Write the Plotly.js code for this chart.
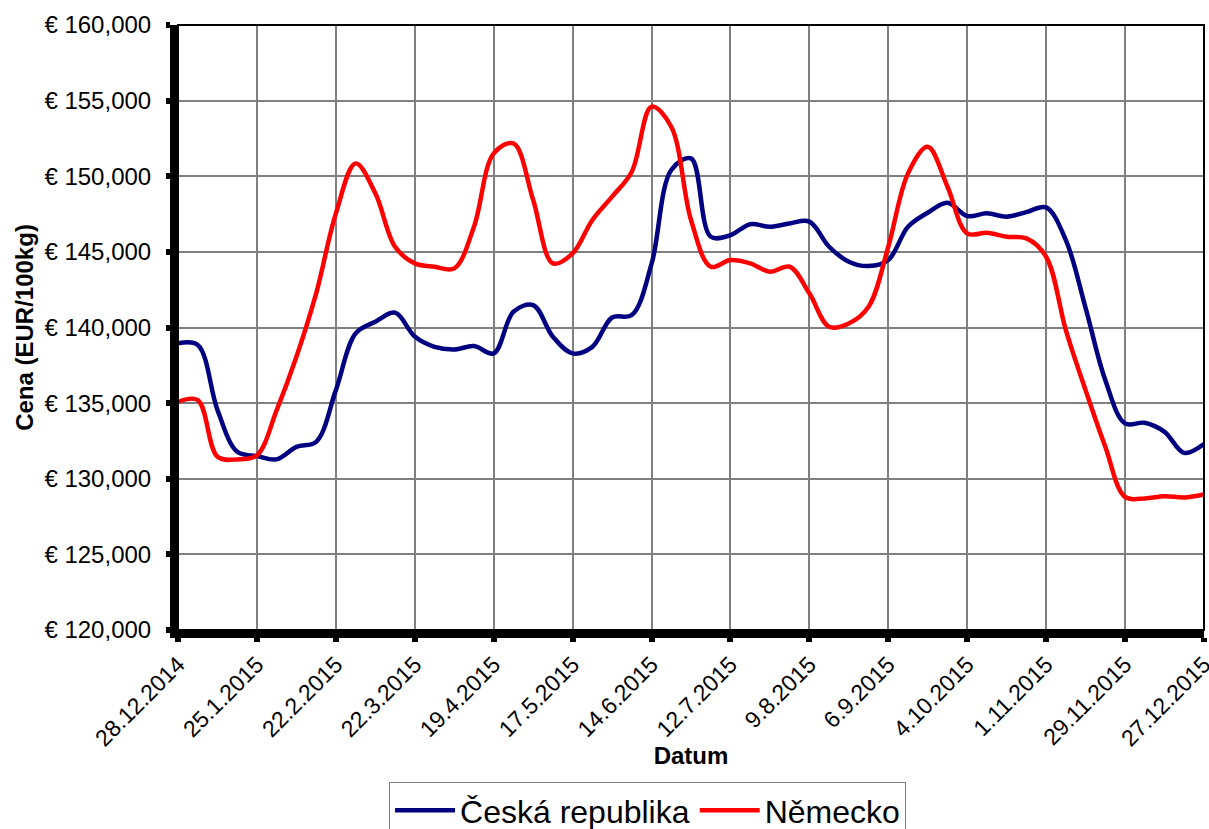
<!DOCTYPE html>
<html>
<head>
<meta charset="utf-8">
<script src="https://cdn.plot.ly/plotly-3.0.1.min.js"></script>
<style>html,body{margin:0;padding:0;background:#fff;}#chart{width:1209px;height:829px;}</style>
</head>
<body>
<div id="chart"></div>
<script>
const dates = [
  "2014-12-28","2015-01-04","2015-01-11","2015-01-18","2015-01-25","2015-02-01","2015-02-08","2015-02-15",
  "2015-02-22","2015-03-01","2015-03-08","2015-03-15","2015-03-22","2015-03-29","2015-04-05","2015-04-12",
  "2015-04-19","2015-04-26","2015-05-03","2015-05-10","2015-05-17","2015-05-24","2015-05-31","2015-06-07",
  "2015-06-14","2015-06-21","2015-06-28","2015-07-05","2015-07-12","2015-07-19","2015-07-26","2015-08-02",
  "2015-08-09","2015-08-16","2015-08-23","2015-08-30","2015-09-06","2015-09-13","2015-09-20","2015-09-27",
  "2015-10-04","2015-10-11","2015-10-18","2015-10-25","2015-11-01","2015-11-08","2015-11-15","2015-11-22",
  "2015-11-29","2015-12-06","2015-12-13","2015-12-20","2015-12-27"
];

const ceskaRepublika = [
  138950, 138840, 134540, 131780, 131500, 131280, 132110, 132440,
  135860, 139610, 140380, 140980, 139400, 138720, 138550, 138770,
  138290, 141040, 141480, 139390, 138290, 138720, 140660, 140820,
  144200, 150410, 151180, 146000, 146110, 146830, 146660, 146880,
  147000, 145340, 144350, 144060, 144460, 146660, 147590, 148250,
  147370, 147550, 147330, 147630, 147940, 145780, 141300, 136520,
  133660, 133700, 133100, 131710, 132290
];

const nemecko = [
  135090, 135200, 131450, 131280, 131560, 134540, 138060, 142250,
  147550, 150850, 148870, 145340, 144240, 144020, 143910, 146660,
  151510, 152170, 148430, 144240, 144900, 147110, 148650, 150300,
  154600, 153270, 147110, 144020, 144460, 144240, 143690, 144020,
  142260, 140050, 140270, 141370, 145340, 150190, 151950, 149310,
  146220, 146260, 146000, 145890, 144680, 139830, 135860, 132110,
  128800, 128700, 128850, 128760, 128960
];

const xTickVals = ["2014-12-28","2015-01-25","2015-02-22","2015-03-22","2015-04-19","2015-05-17","2015-06-14",
                   "2015-07-12","2015-08-09","2015-09-06","2015-10-04","2015-11-01","2015-11-29","2015-12-27"];
const xTickText = ["28.12.2014","25.1.2015","22.2.2015","22.3.2015","19.4.2015","17.5.2015","14.6.2015",
                   "12.7.2015","9.8.2015","6.9.2015","4.10.2015","1.11.2015","29.11.2015","27.12.2015"];

const seriesNames = ["Česká republika", "Německo"];
const FONT = "Liberation Sans, Arial, sans-serif";

const traces = [
  {x: dates, y: ceskaRepublika, name: seriesNames[0], type: "scatter", mode: "lines",
   line: {color: "#000080", width: 4.5, shape: "spline", smoothing: 1}},
  {x: dates, y: nemecko, name: seriesNames[1], type: "scatter", mode: "lines",
   line: {color: "#FF0000", width: 4.5, shape: "spline", smoothing: 1}}
];

const layout = {
  width: 1209, height: 829,
  margin: {l: 178, r: 5, t: 25, b: 199},
  paper_bgcolor: "#fff", plot_bgcolor: "#fff",
  font: {family: FONT, color: "#000"},
  showlegend: true,
  legend: {
    orientation: "h", xref: "paper", x: 0.2057, xanchor: "left",
    yref: "container", y: 0.0567, yanchor: "top",
    bordercolor: "#808080", borderwidth: 1, bgcolor: "#fff",
    font: {family: FONT, size: 32, color: "#000"}, itemwidth: 60, tracegroupgap: 0
  },
  xaxis: {
    type: "date",
    range: ["2014-12-27 23:30", "2015-12-27 00:30"],
    automargin: false,
    tickmode: "array", tickvals: xTickVals, ticktext: xTickText,
    tickangle: -45, ticklabeloverflow: "allow",
    tickfont: {family: FONT, size: 23, color: "#000"},
    showgrid: true, gridcolor: "#808080", gridwidth: 2,
    showline: true, linecolor: "#000", linewidth: 8,
    ticks: "outside", ticklen: 4, tickwidth: 6, tickcolor: "#000",
    zeroline: false,
    title: {text: "<b>Datum</b>", font: {family: FONT, size: 24, color: "#000"}, standoff: 0}
  },
  yaxis: {
    range: [120000, 160000], dtick: 5000, tick0: 120000,
    automargin: false,
    tickprefix: "€ ", tickformat: ",.0f",
    tickfont: {family: FONT, size: 24, color: "#000"},
    showgrid: true, gridcolor: "#808080", gridwidth: 2,
    showline: true, linecolor: "#000", linewidth: 8,
    ticks: "outside", ticklen: 4, tickwidth: 6, tickcolor: "#000",
    ticklabelstandoff: 10,
    zeroline: false,
    title: {text: "<b>Cena (EUR/100kg)</b>", font: {family: FONT, size: 24, color: "#000"}, standoff: 7}
  },
  shapes: [
    {type: "rect", xref: "paper", yref: "paper", x0: 0, x1: 1, y0: 0, y1: 1,
     line: {color: "#000", width: 2}, fillcolor: "rgba(0,0,0,0)", layer: "above"}
  ]
};

Plotly.newPlot("chart", traces, layout, {displayModeBar: false, staticPlot: true});
</script>
</body>
</html>
